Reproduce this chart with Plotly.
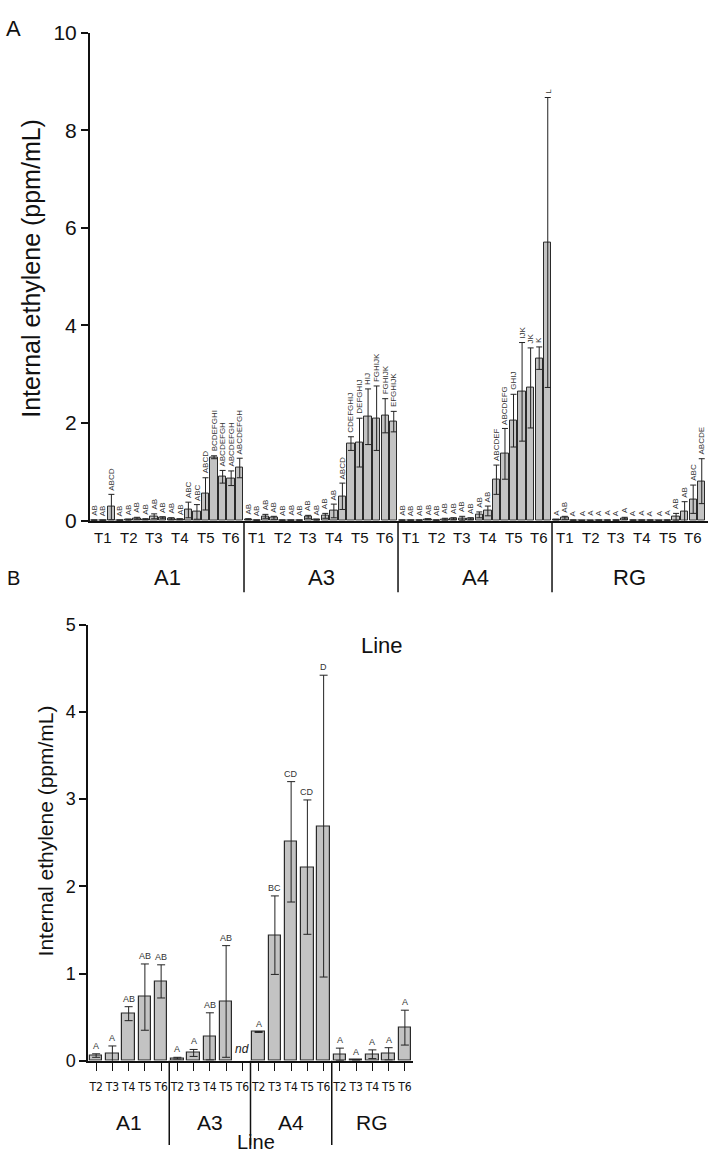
import plotly.graph_objects as go

# ---------------- data ----------------
lines = ["A1", "A3", "A4", "RG"]
timepoints_A = ["T1", "T2", "T3", "T4", "T5", "T6"]
timepoints_B = ["T2", "T3", "T4", "T5", "T6"]

# Panel A: three bars per timepoint, 18 bars per line
A1_mean = [0.01, 0.01, 0.28, 0.01, 0.02, 0.05, 0.03, 0.09, 0.06, 0.04, 0.03, 0.22, 0.18, 0.55, 1.30, 0.90, 0.87, 1.08]
A1_se = [0.005, 0.005, 0.26, 0.005, 0.01, 0.02, 0.01, 0.05, 0.02, 0.02, 0.01, 0.16, 0.15, 0.33, 0.03, 0.13, 0.15, 0.20]
A1_let = ["AB", "AB", "ABCD", "AB", "AB", "AB", "AB", "AB", "AB", "AB", "AB", "ABC", "ABC", "ABCD", "BCDEFGHI", "ABCDEFGH", "ABCDEFGH", "ABCDEFGH"]

A3_mean = [0.03, 0.01, 0.09, 0.06, 0.01, 0.01, 0.01, 0.08, 0.02, 0.10, 0.20, 0.50, 1.58, 1.60, 2.13, 2.10, 2.15, 2.03]
A3_se = [0.01, 0.005, 0.04, 0.03, 0.005, 0.005, 0.005, 0.03, 0.01, 0.05, 0.14, 0.27, 0.14, 0.50, 0.57, 0.66, 0.35, 0.21]
A3_let = ["AB", "AB", "AB", "AB", "AB", "AB", "AB", "AB", "AB", "AB", "AB", "ABCD", "CDEFGHIJ", "DEFGHIJ", "HIJ", "FGHIJK", "FGHIJK", "EFGHIJK"]

A4_mean = [0.01, 0.01, 0.01, 0.03, 0.01, 0.03, 0.04, 0.05, 0.04, 0.12, 0.20, 0.84, 1.37, 2.05, 2.64, 2.72, 3.33, 5.70]
A4_se = [0.005, 0.005, 0.005, 0.01, 0.005, 0.02, 0.02, 0.04, 0.02, 0.06, 0.10, 0.30, 0.52, 0.54, 1.01, 0.82, 0.23, 2.97]
A4_let = ["AB", "AB", "AB", "AB", "AB", "AB", "AB", "AB", "AB", "AB", "AB", "ABCDEF", "ABCDEFG", "GHIJ", "IJK", "JK", "K", "L"]

RG_mean = [0.02, 0.06, 0.01, 0.005, 0.005, 0.01, 0.01, 0.01, 0.05, 0.01, 0.01, 0.01, 0.005, 0.01, 0.08, 0.18, 0.44, 0.81]
RG_se = [0.005, 0.03, 0.005, 0.003, 0.003, 0.005, 0.005, 0.005, 0.02, 0.005, 0.005, 0.005, 0.003, 0.005, 0.07, 0.21, 0.29, 0.46]
RG_let = ["A", "AB", "A", "A", "A", "A", "A", "A", "A", "A", "A", "A", "A", "A", "AB", "AB", "ABC", "ABCDE"]

# Panel B: one bar per timepoint (None = not detected)
B_A1_mean = [0.06, 0.08, 0.54, 0.73, 0.91]
B_A1_se = [0.02, 0.09, 0.08, 0.38, 0.19]
B_A1_let = ["A", "A", "AB", "AB", "AB"]

B_A3_mean = [0.03, 0.09, 0.28, 0.68, None]
B_A3_se = [0.01, 0.04, 0.27, 0.64, 0.0]
B_A3_let = ["A", "A", "AB", "AB", "nd"]

B_A4_mean = [0.33, 1.44, 2.51, 2.22, 2.69]
B_A4_se = [0.005, 0.45, 0.69, 0.77, 1.73]
B_A4_let = ["A", "BC", "CD", "CD", "D"]

B_RG_mean = [0.075, 0.01, 0.075, 0.08, 0.38]
B_RG_se = [0.07, 0.0, 0.05, 0.07, 0.20]
B_RG_let = ["A", "A", "A", "A", "A"]

# ---------------- layout helpers ----------------
W, H = 708, 1160
FONT = "Liberation Sans, Arial, sans-serif"
NARROW = "Liberation Sans Narrow, DejaVu Sans Condensed, Arial Narrow, Liberation Sans, sans-serif"
BAR_FILL = "#c3c3c3"
BAR_LINE = "#2a2a2a"


def py(p):
    return 1 - p / H


def px(p):
    return p / W


fig = go.Figure()

# ---------------- panel A ----------------
a_mean = A1_mean + A3_mean + A4_mean + RG_mean
a_se = A1_se + A3_se + A4_se + RG_se
a_let = A1_let + A3_let + A4_let + RG_let
a_x = [i + 0.5 for i in range(len(a_mean))]
nA = len(timepoints_A) * 3

fig.add_trace(go.Bar(
    x=a_x, y=a_mean, width=0.86, xaxis="x", yaxis="y", showlegend=False,
    marker=dict(color=BAR_FILL, line=dict(color=BAR_LINE, width=1)),
    error_y=dict(type="data", array=a_se, color="#222222", thickness=1, width=3),
))

annotations = []
for xi, m, s, t in zip(a_x, a_mean, a_se, a_let):
    annotations.append(dict(
        x=xi, y=m + s, xref="x", yref="y", text=t, showarrow=False,
        textangle=-90, xanchor="center", yanchor="bottom", yshift=2,
        font=dict(family=FONT, size=8, color="#333333"),
    ))

# timepoint labels and line labels, panel A
for g, name in enumerate(lines):
    for k, tp in enumerate(timepoints_A):
        annotations.append(dict(
            x=g * nA + k * 3 + 1.5, y=py(536), xref="x", yref="paper", text=tp,
            showarrow=False, xanchor="center", yanchor="middle",
            font=dict(family=FONT, size=15, color="#111111"),
        ))
    annotations.append(dict(
        x=g * nA + nA / 2, y=py(577), xref="x", yref="paper", text=name,
        showarrow=False, xanchor="center", yanchor="middle",
        font=dict(family=FONT, size=22, color="#111111"),
    ))

shapes = []
for g in range(1, len(lines)):
    shapes.append(dict(type="line", xref="x", yref="paper", x0=g * nA, x1=g * nA,
                       y0=py(520), y1=py(592), line=dict(color="#111111", width=1.5)))

# ---------------- panel B ----------------
b_mean = B_A1_mean + B_A3_mean + B_A4_mean + B_RG_mean
b_se = B_A1_se + B_A3_se + B_A4_se + B_RG_se
b_let = B_A1_let + B_A3_let + B_A4_let + B_RG_let
b_x = [i + 0.5 for i in range(len(b_mean))]
b_ticktext = timepoints_B * len(lines)
nB = len(timepoints_B)

fig.add_trace(go.Bar(
    x=b_x, y=b_mean, width=0.78, xaxis="x2", yaxis="y2", showlegend=False,
    marker=dict(color=BAR_FILL, line=dict(color=BAR_LINE, width=1.2)),
    error_y=dict(type="data", array=b_se, color="#222222", thickness=1, width=4),
))

for xi, m, s, t in zip(b_x, b_mean, b_se, b_let):
    if m is None:
        annotations.append(dict(
            x=xi, y=0, xref="x2", yref="y2", text="<i>" + t + "</i>", showarrow=False,
            xanchor="center", yanchor="bottom", yshift=3,
            font=dict(family=FONT, size=12, color="#222222"),
        ))
    else:
        annotations.append(dict(
            x=xi, y=m + s, xref="x2", yref="y2", text=t, showarrow=False,
            xanchor="center", yanchor="bottom", yshift=1,
            font=dict(family=FONT, size=9, color="#333333"),
        ))

for g, name in enumerate(lines):
    annotations.append(dict(
        x=g * nB + nB / 2, y=py(1133), xref="x2", yref="paper", text=name,
        showarrow=False, xanchor="center", yanchor="middle",
        font=dict(family=FONT, size=21, color="#111111"),
    ))
for g in range(1, len(lines)):
    shapes.append(dict(type="line", xref="x2", yref="paper", x0=g * nB, x1=g * nB,
                       y0=py(1070), y1=py(1156), line=dict(color="#111111", width=1.5)))

# axis titles / panel letters
annotations += [
    dict(x=px(31), y=py(262), xref="paper", yref="paper", text="Internal ethylene (ppm/mL)",
         textangle=-90, showarrow=False, xanchor="center", yanchor="middle",
         font=dict(family=FONT, size=25, color="#111111")),
    dict(x=px(382), y=py(646), xref="paper", yref="paper", text="Line",
         showarrow=False, xanchor="center", yanchor="middle",
         font=dict(family=FONT, size=22, color="#111111")),
    dict(x=px(45), y=py(836), xref="paper", yref="paper", text="Internal ethylene (ppm/mL)",
         textangle=-90, showarrow=False, xanchor="center", yanchor="middle",
         font=dict(family=FONT, size=21, color="#111111")),
    dict(x=px(256), y=py(1153), xref="paper", yref="paper", text="Line",
         showarrow=False, xanchor="center", yanchor="middle",
         font=dict(family=FONT, size=20, color="#111111")),
    dict(x=px(13), y=py(17), xref="paper", yref="paper", text="A",
         showarrow=False, xanchor="center", yanchor="middle",
         font=dict(family=FONT, size=22, color="#111111")),
    dict(x=px(13), y=py(577), xref="paper", yref="paper", text="B",
         showarrow=False, xanchor="center", yanchor="middle",
         font=dict(family=FONT, size=20, color="#111111")),
]

fig.update_layout(
    width=W, height=H, autosize=False,
    margin=dict(l=0, r=0, t=0, b=0),
    paper_bgcolor="white", plot_bgcolor="white",
    bargap=0, showlegend=False,
    annotations=annotations, shapes=shapes,
    xaxis=dict(domain=[px(90), 1.0], range=[0, 72.23], showline=True, linecolor="#111111",
               linewidth=2, showticklabels=False, ticks="", showgrid=False, zeroline=False,
               anchor="y"),
    yaxis=dict(domain=[py(519), py(21)], range=[0, 10], tickvals=[0, 2, 4, 6, 8, 10],
               showline=True, linecolor="#111111", linewidth=2, ticks="outside", ticklen=7,
               tickwidth=2, tickcolor="#111111", showgrid=False, zeroline=False,
               tickfont=dict(family=FONT, size=21, color="#111111"), anchor="x"),
    xaxis2=dict(domain=[px(88), px(413)], range=[0, 20], showline=True, linecolor="#111111",
                linewidth=1.5, tickvals=b_x, ticktext=b_ticktext, ticks="outside", ticklen=8,
                tickwidth=1, tickcolor="#111111", showgrid=False, zeroline=False, tickangle=0,
                ticklabelstandoff=6,
                tickfont=dict(family=NARROW, size=12, color="#111111"), anchor="y2"),
    yaxis2=dict(domain=[py(1070), py(625)], range=[0, 5], tickvals=[0, 1, 2, 3, 4, 5],
                showline=True, linecolor="#111111", linewidth=1.5, ticks="outside", ticklen=7,
                tickwidth=1.5, tickcolor="#111111", showgrid=False, zeroline=False,
                tickfont=dict(family=FONT, size=18, color="#111111"), anchor="x2"),
)

fig.write_html(
    "out.html",
    config={"displayModeBar": False},
    post_script="document.body.style.margin='0px';document.body.style.overflow='hidden';",
)
